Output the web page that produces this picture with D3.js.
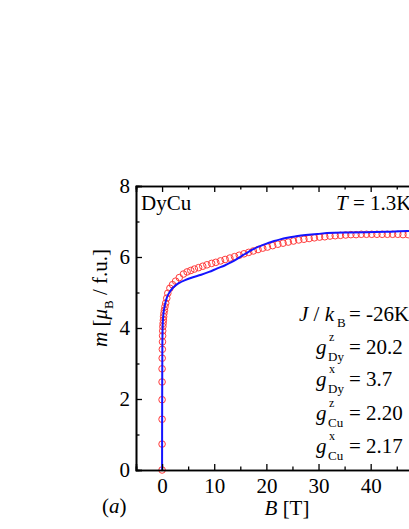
<!DOCTYPE html>
<html>
<head>
<meta charset="utf-8">
<script src="https://cdn.jsdelivr.net/npm/d3@7"></script>
<style>
  html, body { margin: 0; padding: 0; background: #fff; overflow: hidden; }
  svg { display: block; }
  text { font-family: "Liberation Serif", "Times New Roman", serif; fill: #000; }
</style>
</head>
<body>
<svg id="chart" width="409" height="529"></svg>
<script>
// ---- data ----
const dataB = [0,0,0,0,0,0,0.02,0.05,0.08,0.1,0.12,0.15,0.2,0.25,0.3,0.35,0.45,0.55,0.7,0.9,1.1,1.5,2.0,2.6,3.3,4.1,4.8,5.5,6.2,7.0,7.8,8.6,9.5,10.3,11.2,12.1,13.0,13.9,14.8,15.7,16.6,17.5,18.4,19.3,20.2,21.2,22.2,23.2,24.2,25.2,26.2,27.2,28.2,29.2,30.2,31.2,32.2,33.2,34.2,35.2,36.2,37.2,38.2,39.2,40.2,41.2,42.2,43.2,44.2,45.2,46.2,47.2,48.2,49.2];
const dataM = [0,0.73,1.43,1.98,2.48,2.85,3.15,3.4,3.61,3.78,3.92,4.04,4.13,4.22,4.32,4.41,4.5,4.6,4.7,4.84,4.98,5.12,5.22,5.32,5.42,5.52,5.58,5.62,5.66,5.70,5.74,5.78,5.82,5.85,5.89,5.93,5.97,6.01,6.05,6.09,6.13,6.17,6.21,6.25,6.28,6.32,6.36,6.39,6.42,6.45,6.48,6.50,6.52,6.54,6.56,6.57,6.59,6.60,6.61,6.62,6.63,6.63,6.64,6.64,6.64,6.64,6.64,6.64,6.64,6.64,6.63,6.63,6.62,6.62];
const fitB = [0,0.02,0.05,0.1,0.2,0.35,0.55,0.8,1.1,1.5,2.0,2.6,3.3,4.3,5.5,7.5,9.0,10.6,12.0,13.2,14.4,15.5,16.5,17.5,18.5,19.5,20.5,21.5,22.5,24.0,25.5,27.5,29.8,33,36,39.3,43,47,52,56,60];
const fitM = [0,2.0,3.4,4.0,4.3,4.5,4.65,4.8,4.92,5.02,5.12,5.2,5.27,5.34,5.41,5.5,5.58,5.68,5.76,5.85,5.95,6.05,6.14,6.22,6.29,6.35,6.40,6.45,6.49,6.54,6.58,6.62,6.65,6.68,6.69,6.7,6.71,6.73,6.74,6.75,6.75];
const xMajorTicks = [0,10,20,30,40,50];
const yMajorTicks = [0,2,4,6,8];

(function () {
// ---- layout ----
const svg = d3.select("#chart");
const pLeft = 136, pTop = 186, pBottom = 470;
const pxPerT = 5.215;
const xDomain = [-5, 60];
const x = d3.scaleLinear().domain(xDomain).range([pLeft, pLeft + (xDomain[1]-xDomain[0])*pxPerT]);
const y = d3.scaleLinear().domain([0, 8]).range([pBottom, pTop]);
const pRight = x.range()[1];

const clipId = "plotclip";
svg.append("defs").append("clipPath").attr("id", clipId)
  .append("rect").attr("x", pLeft).attr("y", pTop - 5).attr("width", pRight - pLeft).attr("height", pBottom - pTop + 10);

const plot = svg.append("g");

// data circles
plot.append("g").attr("clip-path", `url(#${clipId})`)
  .selectAll("circle").data(dataB.map((b,i)=>[b, dataM[i]])).join("circle")
  .attr("cx", d => x(d[0])).attr("cy", d => y(d[1])).attr("r", 3.3)
  .attr("fill", "none").attr("stroke", "#ff3b3b").attr("stroke-width", 1);

// fit line
plot.append("path")
  .datum(fitB.map((b,i)=>[b, fitM[i]]))
  .attr("clip-path", `url(#${clipId})`)
  .attr("fill", "none").attr("stroke", "#1414ff").attr("stroke-width", 2)
  .attr("d", d3.line().x(d => x(d[0])).y(d => y(d[1])).curve(d3.curveMonotoneY));

// axes
const axisW = 1.6;
const xMinor = d3.range(-5, 61, 5).filter(v => !xMajorTicks.includes(v));
const yMinor = d3.range(1, 8, 2);

const xBottom = svg.append("g").attr("transform", `translate(0,${pBottom})`)
  .call(d3.axisBottom(x).tickValues(xMajorTicks).tickSize(-6).tickPadding(10).tickFormat(d3.format("d")));
const xBottomMinor = svg.append("g").attr("transform", `translate(0,${pBottom})`)
  .call(d3.axisBottom(x).tickValues(xMinor).tickSize(-3.5).tickFormat(""));
const xTop = svg.append("g").attr("transform", `translate(0,${pTop})`)
  .call(d3.axisTop(x).tickValues(xMajorTicks).tickSize(-6).tickFormat(""));
const xTopMinor = svg.append("g").attr("transform", `translate(0,${pTop})`)
  .call(d3.axisTop(x).tickValues(xMinor).tickSize(-3.5).tickFormat(""));
const yLeft = svg.append("g").attr("transform", `translate(${pLeft},0)`)
  .call(d3.axisLeft(y).tickValues(yMajorTicks).tickSize(-6).tickPadding(6).tickFormat(d3.format("d")));
const yLeftMinor = svg.append("g").attr("transform", `translate(${pLeft},0)`)
  .call(d3.axisLeft(y).tickValues(yMinor).tickSize(-3.5).tickFormat(""));

[xBottom, xBottomMinor, xTop, xTopMinor, yLeft, yLeftMinor].forEach(g => {
  g.select(".domain").attr("stroke", "#000").attr("stroke-width", axisW);
  g.selectAll(".tick line").attr("stroke", "#000").attr("stroke-width", 1.3);
  g.selectAll(".tick text").attr("font-family", "Liberation Serif, serif").attr("font-size", 21).attr("fill", "#000");
});
xBottom.selectAll(".tick text").attr("dy", null).attr("y", 23);
yLeft.selectAll(".tick text").attr("dy", "0.33em");

// annotations
const fs = 21;
svg.append("text").attr("x", 141).attr("y", 210).attr("font-size", fs).text("DyCu");
const tT = svg.append("text").attr("x", 336).attr("y", 210).attr("font-size", fs);
tT.append("tspan").attr("font-style", "italic").text("T");
tT.append("tspan").text(" = 1.3K");

// J / kB
const jy = 321;
const jt = svg.append("text").attr("x", 299).attr("y", jy).attr("font-size", fs);
jt.append("tspan").attr("font-style", "italic").text("J");
jt.append("tspan").text(" / ");
jt.append("tspan").attr("font-style", "italic").text("k");
svg.append("text").attr("x", 337).attr("y", jy + 6).attr("font-size", 13).text("B");
svg.append("text").attr("x", 349).attr("y", jy).attr("font-size", fs).text("= -26K");

const gLines = [
  {sup: "z", sub: "Dy", val: "= 20.2", y: 354},
  {sup: "x", sub: "Dy", val: "= 3.7",  y: 386},
  {sup: "z", sub: "Cu", val: "= 2.20", y: 420},
  {sup: "x", sub: "Cu", val: "= 2.17", y: 453}
];
gLines.forEach(l => {
  svg.append("text").attr("x", 316).attr("y", l.y).attr("font-size", fs).attr("font-style", "italic").text("g");
  svg.append("text").attr("x", 329).attr("y", l.y - 13).attr("font-size", 12).text(l.sup);
  svg.append("text").attr("x", 328).attr("y", l.y + 7).attr("font-size", 13).text(l.sub);
  svg.append("text").attr("x", 349).attr("y", l.y).attr("font-size", fs).text(l.val);
});

// axis titles
const xt = svg.append("text").attr("x", 287).attr("y", 515).attr("font-size", fs).attr("text-anchor", "middle");
xt.append("tspan").attr("font-style", "italic").text("B");
xt.append("tspan").text(" [T]");

const pa = svg.append("text").attr("x", 102).attr("y", 513).attr("font-size", fs);
pa.append("tspan").text("(");
pa.append("tspan").attr("font-style", "italic").text("a");
pa.append("tspan").text(")");

const yt = svg.append("text").attr("transform", "translate(107,298) rotate(-90)")
  .attr("font-size", fs).attr("text-anchor", "middle");
yt.append("tspan").attr("font-style", "italic").text("m");
yt.append("tspan").text(" [");
yt.append("tspan").attr("font-style", "italic").text("μ");
yt.append("tspan").attr("font-size", 13).attr("dy", 6).text("B");
yt.append("tspan").attr("dy", -6).text(" / f.u.]");
})();
</script>
</body>
</html>
